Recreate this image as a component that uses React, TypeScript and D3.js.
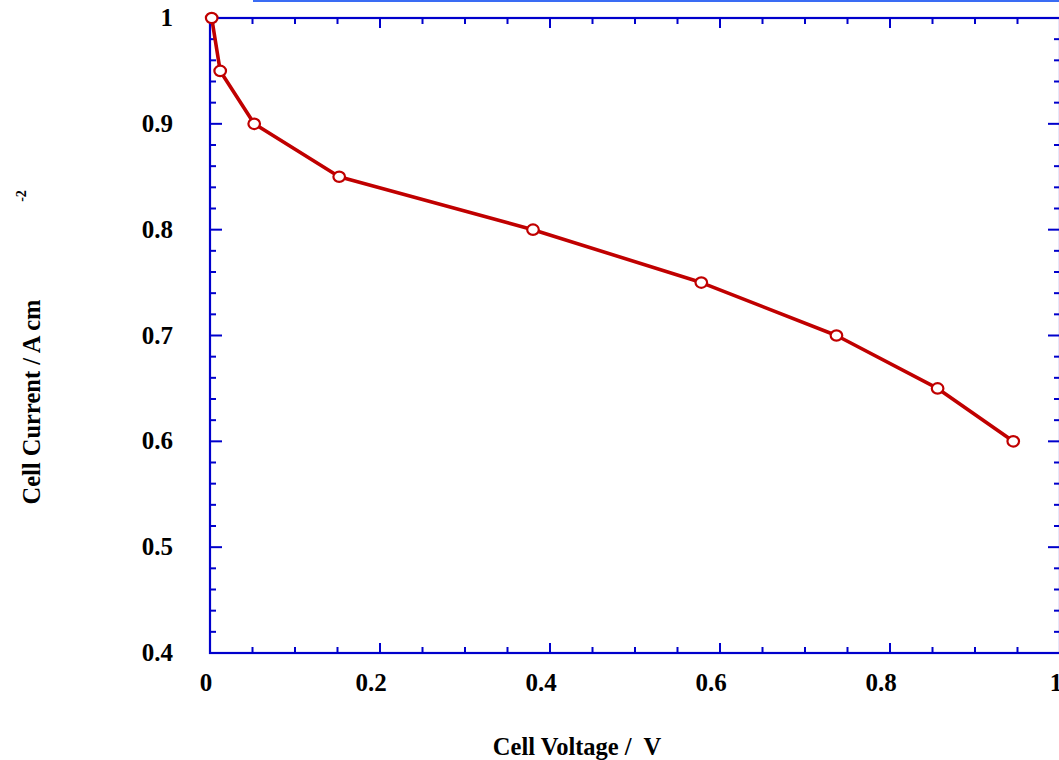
import React, { useEffect, useRef } from "react";
import * as d3 from "d3";

const voltage = [0.002, 0.012, 0.052, 0.152, 0.380, 0.578, 0.737, 0.856, 0.945];
const current = [1.0, 0.95, 0.9, 0.85, 0.8, 0.75, 0.7, 0.65, 0.6];
const xTickLabels = ["0", "0.2", "0.4", "0.6", "0.8", "1"];
const yTickLabels = ["0.4", "0.5", "0.6", "0.7", "0.8", "0.9", "1"];

const W = 1059, H = 760;
const AXIS = "#0000cc";
const LINE = "#c00000";
const FONT = "'Liberation Serif', 'Times New Roman', serif";

export default function App() {
  const ref = useRef<SVGSVGElement>(null);
  useEffect(() => {
    const svg = d3.select(ref.current);
    svg.selectAll("*").remove();
    const x = d3.scaleLinear().domain([0, 1]).range([210, 1060]);
    const y = d3.scaleLinear().domain([0.4, 1]).range([653, 18]);

    // top artifact line
    svg.append("rect").attr("x", 253).attr("y", 0).attr("width", 806).attr("height", 2).attr("fill", "#3a6cf4");

    const g = svg.append("g");
    const xt = d3.range(0, 1.0001, 0.05);
    xt.forEach((v, i) => {
      const major = i % 4 === 0;
      const len = major ? 10 : 6;
      g.append("line").attr("x1", x(v)).attr("x2", x(v)).attr("y1", 653).attr("y2", 653 - len)
        .attr("stroke", AXIS).attr("stroke-width", 2);
      g.append("line").attr("x1", x(v)).attr("x2", x(v)).attr("y1", 18).attr("y2", 18 + len)
        .attr("stroke", AXIS).attr("stroke-width", 2);
    });
    const yt = d3.range(0, 31).map(i => 0.4 + i * 0.02);
    yt.forEach((v, i) => {
      const major = i % 5 === 0;
      const len = major ? 12 : 6;
      g.append("line").attr("x1", 210).attr("x2", 210 + len).attr("y1", y(v)).attr("y2", y(v))
        .attr("stroke", AXIS).attr("stroke-width", 2);
      g.append("line").attr("x1", 1060).attr("x2", 1060 - len).attr("y1", y(v)).attr("y2", y(v))
        .attr("stroke", AXIS).attr("stroke-width", 2);
    });
    g.append("rect").attr("x", 210).attr("y", 18).attr("width", 850).attr("height", 635)
      .attr("fill", "none").attr("stroke", AXIS).attr("stroke-width", 2.2);

    xTickLabels.forEach((t) => {
      svg.append("text").attr("x", x(+t) - (t.length > 1 ? 9 : 4)).attr("y", 691).attr("text-anchor", "middle")
        .attr("font-family", FONT).attr("font-weight", "bold").attr("font-size", 25).attr("fill", "#000").text(t);
    });
    yTickLabels.forEach((t) => {
      svg.append("text").attr("x", 173).attr("y", y(+t) + 8).attr("text-anchor", "end")
        .attr("font-family", FONT).attr("font-weight", "bold").attr("font-size", 25).attr("fill", "#000").text(t);
    });

    svg.append("text").attr("x", 577).attr("y", 755).attr("text-anchor", "middle")
      .attr("font-family", FONT).attr("font-weight", "bold").attr("font-size", 24.5).attr("fill", "#000")
      .attr("xml:space", "preserve").style("white-space", "pre").text("Cell Voltage /  V");
    svg.append("text").attr("transform", "translate(40,402) rotate(-90)").attr("text-anchor", "middle")
      .attr("font-family", FONT).attr("font-weight", "bold").attr("font-size", 24.5).attr("fill", "#000")
      .text("Cell Current / A cm");
    svg.append("text").attr("transform", "translate(26,196) rotate(-90)").attr("text-anchor", "middle")
      .attr("font-family", FONT).attr("font-weight", "bold").attr("font-size", 14).attr("fill", "#000")
      .text("-2");

    const pts = voltage.map((v, i) => [v, current[i]] as [number, number]);
    const line = d3.line<[number, number]>().x(d => x(d[0])).y(d => y(d[1]));
    svg.append("path").attr("d", line(pts)).attr("fill", "none").attr("stroke", LINE).attr("stroke-width", 3.6)
      .attr("stroke-linejoin", "round");
    svg.selectAll("ellipse.m").data(pts).enter().append("ellipse")
      .attr("cx", d => x(d[0])).attr("cy", d => y(d[1])).attr("rx", 5.8).attr("ry", 5.2)
      .attr("fill", "#fff").attr("stroke", LINE).attr("stroke-width", 2.2);
  }, []);
  return (
    <svg ref={ref} width={W} height={H} style={{ position: "absolute", left: 0, top: 0, background: "#fff" }} />
  );
}
